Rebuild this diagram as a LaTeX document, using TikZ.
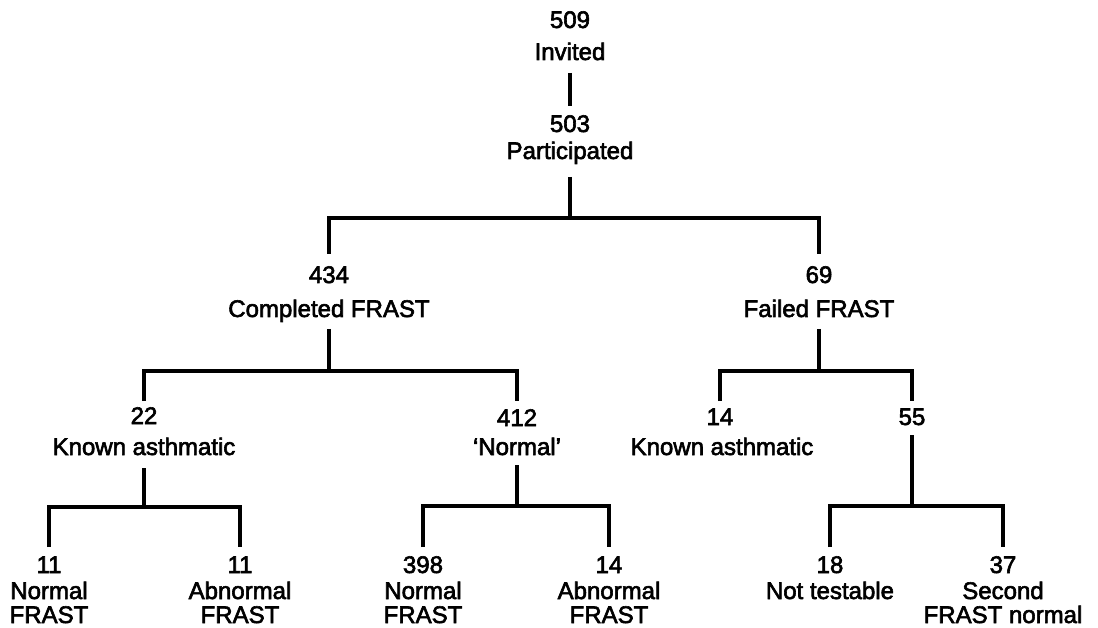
\documentclass[tikz,border=0pt]{standalone}
\usepackage{fontspec}
\setmainfont[FakeBold=2.5]{Liberation Sans}
\begin{document}
\begin{tikzpicture}[x=1pt,y=-1pt,
  txt/.style={anchor=base,inner sep=0pt,font=\fontsize{24}{28}\selectfont},
  conn/.style={line width=3.2pt}]
\useasboundingbox (0,0) rectangle (1098,628);
% level 0/1
\node[txt] (n509) at (570,28) {509};
\node[txt] (t509) at (570,60) {Invited};
\node[txt] (n503) at (570,132) {503};
\node[txt] (t503) at (570,159) {Participated};
% level 2
\node[txt] (n434) at (329,283) {434};
\node[txt] (t434) at (329,317) {Completed FRAST};
\node[txt] (n69) at (819,283) {69};
\node[txt] (t69) at (819,317) {Failed FRAST};
% level 3
\node[txt] (n22) at (144,424) {22};
\node[txt] (t22) at (144,455) {Known asthmatic};
\node[txt] (n412) at (517,426) {412};
\node[txt] (t412) at (517,455) {‘Normal’};
\node[txt] (n14a) at (720,425) {14};
\node[txt] (t14a) at (722,455) {Known asthmatic};
\node[txt] (n55) at (912,425) {55};
% level 4
\node[txt] (n11a) at (49,573) {11};
\node[txt] (t11a) at (49,599) {Normal};
\node[txt] (u11a) at (49,623) {FRAST};
\node[txt] (n11b) at (240,573) {11};
\node[txt] (t11b) at (240,599) {Abnormal};
\node[txt] (u11b) at (240,623) {FRAST};
\node[txt] (n398) at (423,573) {398};
\node[txt] (t398) at (423,599) {Normal};
\node[txt] (u398) at (423,623) {FRAST};
\node[txt] (n14b) at (609,573) {14};
\node[txt] (t14b) at (609,599) {Abnormal};
\node[txt] (u14b) at (609,623) {FRAST};
\node[txt] (n18) at (830,573) {18};
\node[txt] (t18) at (830,599) {Not testable};
\node[txt] (n37) at (1003,573) {37};
\node[txt] (t37) at (1003,599) {Second};
\node[txt] (u37) at (1003,623) {FRAST normal};
% junctions
\coordinate (j503) at (570,218);
\coordinate (j434) at (329,371);
\coordinate (j69) at (819,371);
\coordinate (j22) at (144,507);
\coordinate (j412) at (517,506);
\coordinate (j55) at (912,506);
% connectors
\draw[conn] ([yshift=-13pt]t509.base) -- ([yshift=26pt]n503.base);
\draw[conn] ([yshift=-18pt]t503.base) -- (j503);
\draw[conn] ([yshift=29pt]n434.base) |- (j503) -| ([yshift=29pt]n69.base);
\draw[conn] ([yshift=-12pt]t434.base) -- (j434);
\draw[conn] ([yshift=23pt]n22.base) |- (j434) -| ([yshift=25pt]n412.base);
\draw[conn] ([yshift=-12pt]t69.base) -- (j69);
\draw[conn] ([yshift=24pt]n14a.base) |- (j69) -| ([yshift=24pt]n55.base);
\draw[conn] ([yshift=-13pt]t22.base) -- (j22);
\draw[conn] ([yshift=26pt]n11a.base) |- (j22) -| ([yshift=26pt]n11b.base);
\draw[conn] ([yshift=-10pt]t412.base) -- (j412);
\draw[conn] ([yshift=26pt]n398.base) |- (j412) -| ([yshift=26pt]n14b.base);
\draw[conn] ([yshift=-10pt]n55.base) -- (j55);
\draw[conn] ([yshift=26pt]n18.base) |- (j55) -| ([yshift=26pt]n37.base);
\end{tikzpicture}
\end{document}
